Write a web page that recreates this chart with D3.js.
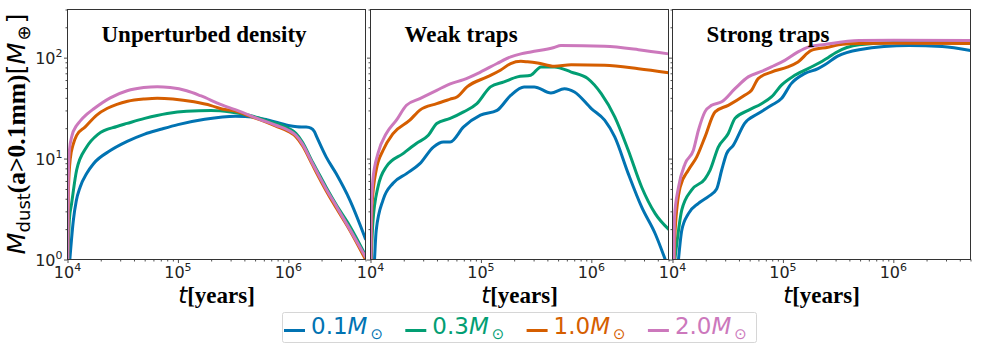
<!DOCTYPE html>
<html>
<head>
<meta charset="utf-8">
<script src="https://cdn.jsdelivr.net/npm/d3@7"></script>
<style>
  body { margin: 0; background: #fff; }
  svg { display: block; }
</style>
</head>
<body>
<svg id="chart" width="981" height="349"></svg>
<script>
// series labels + colours (seaborn colorblind)
const masses = ["0.1", "0.3", "1.0", "2.0"];
const colors = ["#0173b2", "#029e73", "#d55e00", "#cc78bc"];
const panelTitles = ["Unperturbed density", "Weak traps", "Strong traps"];
const xMajor = [1e4, 1e5, 1e6];
const yMajor = [1, 10, 100];

// [t (years), M_dust (M_earth)]
const unp01 = [[1.05e4,1],[1.13e4,2.45],[1.2e4,3.8],[1.3e4,5.2],[1.5e4,7.2],[1.72e4,8.9],[2.44e4,12],[3.47e4,14.8],[5e4,17.5],[7e4,19.5],[1e5,21.7],[1.75e5,24.5],[3.3e5,26.3],[5e5,25.6],[6.65e5,24],[1e6,21.3],[1.2e6,20.7],[1.45e6,20.5],[1.6e6,20],[1.72e6,18.5],[1.8e6,16.6],[2.2e6,10.4],[2.71e6,7.1],[3.6e6,3.9],[5e6,1.6]];
const unp03 = [[1.01e4,1],[1.04e4,2.5],[1.09e4,3.6],[1.21e4,7.7],[1.49e4,13],[1.9e4,17.5],[2.8e4,20.8],[3.47e4,22.3],[5e4,25],[8e4,28],[1.2e5,29.5],[2e5,30],[3e5,29],[4.4e5,26.9],[6.65e5,23.5],[1e6,20],[1.17e6,17.8],[1.34e6,14.6],[1.66e6,9.2],[1.78e6,8.0],[2.2e6,5.2],[2.71e6,3.5],[3.6e6,2.15],[5e6,1.1]];
const unp10 = [[1.005e4,1],[1.02e4,5],[1.06e4,10],[1.13e4,14],[1.21e4,17],[1.44e4,20.5],[1.84e4,27],[2.3e4,31.5],[2.8e4,34.5],[3.5e4,37],[5e4,39],[6.5e4,39.7],[9e4,39],[1.4e5,36.5],[2e5,33.5],[2.5e5,31],[3.3e5,29.5],[4.4e5,26.5],[5.5e5,24.3],[7.7e5,21],[1e6,18.6],[1.17e6,16.5],[1.34e6,13.5],[1.66e6,8.6],[1.78e6,7.4],[2.2e6,4.8],[2.71e6,3.25],[3.6e6,1.95],[5e6,1.0]];
const unp20 = [[1.005e4,1],[1.015e4,6],[1.04e4,12],[1.1e4,17],[1.2e4,21],[1.3e4,23.5],[1.5e4,27.5],[1.72e4,31],[2.44e4,40],[3.47e4,47],[4.9e4,50.5],[6.5e4,51.5],[8.5e4,50.5],[1.2e5,47],[1.6e5,42],[2.5e5,34],[3.3e5,30.5],[4.4e5,27],[5e5,25.5],[7.7e5,21.4],[1.01e6,19],[1.17e6,17],[1.34e6,14],[1.66e6,8.9],[1.78e6,7.7],[2.2e6,5.0],[2.71e6,3.4],[3.6e6,2.0],[5e6,1.06]];

const weak01 = [[1.088e4,1],[1.127e4,1.95],[1.3e4,3.9],[1.6e4,5.7],[2.12e4,7.1],[2.8e4,8.9],[3.71e4,13],[4.58e4,14.6],[5.27e4,14.6],[6.97e4,20.6],[9.9e4,26.9],[1.4e5,30],[1.86e5,42.3],[2.46e5,51.3],[3.04e5,51.3],[4.31e5,44.7],[5.71e5,49.3],[7.04e5,45.7],[1e6,31.3],[1.32e6,24],[1.63e6,16.4],[2.16e6,7.1],[2.86e6,3.3],[3.79e6,1.8],[4.67e6,1.0]];
const weak03 = [[1.015e4,1],[1.05e4,2.3],[1.167e4,5.2],[1.39e4,8.3],[1.97e4,11.2],[2.6e4,14.1],[3.34e4,17],[3.98e4,22.3],[5.27e4,25],[6.97e4,29],[9.2e4,35],[1.22e5,51.3],[1.62e5,57.5],[2.14e5,64.5],[2.83e5,67],[3.5e5,81],[4.63e5,81],[6.57e5,72],[9.3e5,62],[1.23e6,44],[1.63e6,25.9],[2.16e6,12.1],[2.86e6,5.2],[3.79e6,2.85],[5e6,2.0]];
const weak10 = [[1.01e4,1],[1.035e4,3.6],[1.127e4,7.7],[1.3e4,12.1],[1.6e4,17.7],[2.27e4,24],[2.8e4,30.2],[3.98e4,35],[5.27e4,38.8],[6.06e4,40.8],[7.48e4,51.3],[1.14e5,64.5],[1.5e5,75],[1.86e5,87.5],[2.3e5,92],[2.64e5,91],[3.26e5,88.5],[4.63e5,82],[6.57e5,85],[1.32e6,84],[2.67e6,77.8],[5e6,71]];
const weak20 = [[1.008e4,1],[1.014e4,2.6],[1.05e4,6.1],[1.167e4,11.2],[1.39e4,17.7],[1.716e4,24],[2.117e4,33.8],[2.8e4,39.3],[3.98e4,47.5],[5.27e4,55],[6.97e4,60.5],[9.9e4,72],[1.4e5,87.5],[1.86e5,101.6],[2.3e5,109],[2.83e5,114],[4.6e5,126],[5.3e5,132],[1.32e6,129.5],[2.67e6,120],[5e6,109]];

const strong01 = [[1.133e4,1],[1.214e4,1.95],[1.394e4,2.85],[1.717e4,3.6],[2.11e4,4.2],[2.51e4,5.0],[2.79e4,7.7],[3.09e4,11.2],[3.55e4,13.5],[4.5e4,22.3],[5.97e4,27.9],[7.87e4,33.7],[9.7e4,39.3],[1.19e5,55.3],[1.57e5,69.4],[2.08e5,77.9],[2.4e5,85],[3.1e5,103],[4.9e5,120],[1.385e6,132],[2.77e6,129],[5e6,118]];
const strong03 = [[1.05e4,1],[1.094e4,1.44],[1.214e4,3.1],[1.493e4,4.9],[1.97e4,6.3],[2.19e4,7.7],[2.6e4,13],[3.2e4,17.7],[3.68e4,25],[4.85e4,30],[6.4e4,35],[7.87e4,40.8],[9.7e4,53.4],[1.28e5,66.8],[1.94e5,84],[2.56e5,100],[3e5,112],[4.9e5,134],[1e6,141],[5e6,142]];
const strong10 = [[1.035e4,1],[1.057e4,1.95],[1.173e4,5.2],[1.394e4,7.7],[1.658e4,10.4],[1.97e4,16.4],[2.43e4,29],[3.2e4,33.7],[4.5e4,42.4],[5.2e4,47.5],[5.97e4,62],[7.87e4,72],[1.11e5,81],[1.37e5,90.8],[1.81e5,118],[2.56e5,127],[3.47e5,136],[5e5,138],[1e6,139],[5e6,138]];
const strong20 = [[1.03e4,1],[1.042e4,2.6],[1.133e4,5.2],[1.3e4,8.9],[1.546e4,12.1],[1.717e4,19.1],[1.97e4,29.2],[2.26e4,33.7],[2.79e4,36.5],[3.68e4,49.3],[4.85e4,64.5],[6.4e4,73],[7.87e4,81],[1.04e5,94],[1.37e5,114],[1.69e5,127],[2.39e5,135],[4.9e5,148],[1e6,149],[5e6,148]];

const panelSeries = [
  [unp01, unp03, unp10, unp20],
  [weak01, weak03, weak10, weak20],
  [strong01, strong03, strong10, strong20]
];

const sans = "'DejaVu Sans', sans-serif";
const serif = "'Liberation Serif', 'Times New Roman', serif";
const ink = "#222";

const panelLeft = [67.5, 370.5, 672.5];
const panelTop = 9.5;
const width = 298, height = 250;

const svg = d3.select("#chart");

const x = d3.scaleLog().domain([1e4, 5e6]).range([0, width]);
const y = d3.scaleLog().domain([1, 300]).range([height, 0]);

// minor ticks 2..9 per decade
const xMinor = [];
[1e4, 1e5, 1e6].forEach(d => { for (let k = 2; k <= 9; k++) if (k * d <= 5e6) xMinor.push(k * d); });
const yMinor = [];
[1, 10, 100].forEach(d => { for (let k = 2; k <= 9; k++) if (k * d <= 300) yMinor.push(k * d); });

const line = d3.line()
  .x(d => x(d[0]))
  .y(d => y(d[1]))
  .curve(d3.curveMonotoneX);

function powLabel(sel, exp) {
  sel.append("tspan").text("10");
  sel.append("tspan").attr("font-size", 11).attr("dy", -7).text(exp);
}

panelSeries.forEach((series, p) => {
  const g = svg.append("g").attr("transform", "translate(" + panelLeft[p] + "," + panelTop + ")");

  g.append("clipPath").attr("id", "clip" + p)
    .append("rect").attr("width", width).attr("height", height);

  // curves
  g.append("g").attr("clip-path", "url(#clip" + p + ")")
    .selectAll("path")
    .data(series)
    .enter()
    .append("path")
    .attr("d", line)
    .attr("fill", "none")
    .attr("stroke", (d, i) => colors[i])
    .attr("stroke-width", 3)
    .attr("stroke-linejoin", "round")
    .attr("stroke-linecap", "round");

  // ticks (outward, no labels from d3)
  const xa = g.append("g").attr("transform", "translate(0," + height + ")")
    .call(d3.axisBottom(x).tickValues(xMajor).tickSize(3.5).tickFormat(""));
  const xm = g.append("g").attr("transform", "translate(0," + height + ")")
    .call(d3.axisBottom(x).tickValues(xMinor).tickSize(2).tickFormat(""));
  const ya = g.append("g").call(d3.axisLeft(y).tickValues(yMajor).tickSize(3.5).tickFormat(""));
  const ym = g.append("g").call(d3.axisLeft(y).tickValues(yMinor).tickSize(2).tickFormat(""));
  [xa, xm, ya, ym].forEach(a => {
    a.select(".domain").remove();
    a.selectAll("line").attr("stroke", ink).attr("stroke-width", 0.8);
  });

  // frame
  g.append("rect")
    .attr("width", width).attr("height", height)
    .attr("fill", "none").attr("stroke", "#333").attr("stroke-width", 1);

  // x tick labels
  xMajor.forEach(t => {
    const lab = g.append("text")
      .attr("x", x(t)).attr("y", height + 18)
      .attr("text-anchor", "middle")
      .attr("font-family", sans).attr("font-size", 16).attr("fill", ink);
    powLabel(lab, Math.round(Math.log10(t)));
  });

  // y tick labels, first panel only
  if (p === 0) {
    yMajor.forEach(v => {
      const lab = g.append("text")
        .attr("x", -5).attr("y", y(v) + 6)
        .attr("text-anchor", "end")
        .attr("font-family", sans).attr("font-size", 16).attr("fill", ink);
      powLabel(lab, Math.round(Math.log10(v)));
    });
  }

  // panel title
  g.append("text")
    .attr("x", 34).attr("y", 32)
    .attr("font-family", serif).attr("font-weight", "bold").attr("font-size", 23)
    .attr("fill", "#000")
    .text(panelTitles[p]);

  // x label  t[years]
  const xl = g.append("text")
    .attr("x", width / 2).attr("y", height + 43)
    .attr("text-anchor", "middle").attr("font-size", 23).attr("fill", "#000");
  xl.append("tspan").attr("font-family", sans).attr("font-style", "italic").text("t");
  xl.append("tspan").attr("font-family", serif).attr("font-weight", "bold").text("[years]");
});

// y label  M_dust(a>0.1mm)[M_⊕]
const yl = svg.append("text")
  .attr("transform", "translate(25,134) rotate(-90)")
  .attr("text-anchor", "middle").attr("font-size", 25.5).attr("fill", "#000");
yl.append("tspan").attr("font-family", sans).attr("font-style", "italic").text("M");
yl.append("tspan").attr("font-family", sans).attr("font-size", 18).attr("dy", 5).text("dust");
yl.append("tspan").attr("font-family", serif).attr("font-weight", "bold").attr("dy", -5).text("(a>0.1mm)");
yl.append("tspan").attr("font-family", sans).text("[");
yl.append("tspan").attr("font-family", sans).attr("font-style", "italic").text("M");
yl.append("tspan").attr("font-family", sans).attr("font-size", 18).attr("dy", 5).attr("dx", 2).text("\u2295");
yl.append("tspan").attr("font-family", sans).attr("dy", -5).attr("dx", 2).text("]");

// legend
const legend = svg.append("g");
legend.append("rect")
  .attr("x", 282.5).attr("y", 312.5).attr("width", 474).attr("height", 30)
  .attr("rx", 2).attr("fill", "#fff").attr("stroke", "#d6d6d6");

masses.forEach((m, i) => {
  const x0 = 284 + i * 121.3;
  legend.append("line")
    .attr("x1", x0).attr("x2", x0 + 21)
    .attr("y1", 330.5).attr("y2", 330.5)
    .attr("stroke", colors[i]).attr("stroke-width", 3);
  const t = legend.append("text")
    .attr("x", x0 + 27).attr("y", 334)
    .attr("font-family", sans).attr("font-size", 23).attr("fill", colors[i]);
  t.append("tspan").text(m);
  t.append("tspan").attr("font-style", "italic").text("M");
  t.append("tspan").attr("font-size", 15).attr("dy", 5).attr("dx", 3).text("\u2299");
});
</script>
</body>
</html>
